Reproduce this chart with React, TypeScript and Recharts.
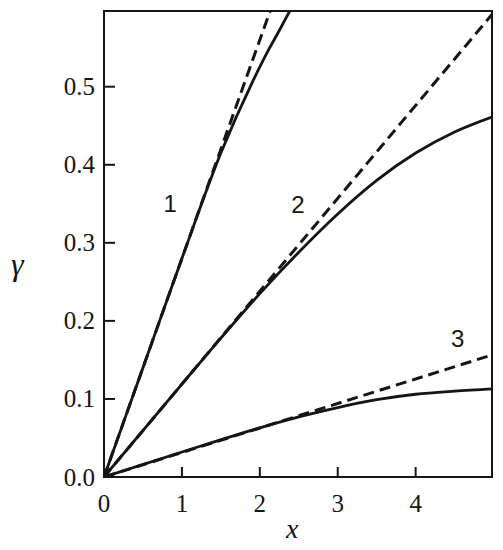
import React from 'react';
import { LineChart, Line, XAxis, YAxis, ReferenceArea, ReferenceDot } from 'recharts';

// curve 1 (solid) and its initial tangent (dashed)
const x1 = [0, 0.5, 1, 1.5, 1.9, 2.1, 2.25, 2.4];
const gamma1 = [0, 0.14, 0.28, 0.415, 0.505, 0.545, 0.572, 0.6];
const x1Tangent = [0, 2.2];
const gamma1Tangent = [0, 0.616];

// curve 2
const x2 = [0, 1, 1.5, 2, 2.5, 3, 3.5, 4, 4.5, 5];
const gamma2 = [0, 0.119, 0.178, 0.235, 0.288, 0.337, 0.38, 0.415, 0.442, 0.462];
const x2Tangent = [0, 5];
const gamma2Tangent = [0, 0.595];

// curve 3
const x3 = [0, 1, 2, 2.5, 3, 3.5, 4, 4.5, 5];
const gamma3 = [0, 0.032, 0.063, 0.077, 0.089, 0.099, 0.106, 0.11, 0.113];
const x3Tangent = [0, 5];
const gamma3Tangent = [0, 0.157];

const xTicks = [0, 1, 2, 3, 4];
const yTicks = [0, 0.1, 0.2, 0.3, 0.4, 0.5];
const X_MAX = 4.98;
const Y_MAX = 0.597;

const curveLabels = ['1', '2', '3'];
const labelX = [0.85, 2.49, 4.54];
const labelY = [0.351, 0.349, 0.178];

const INK = '#151515';
const SERIF = 'Liberation Serif';
const SANS = 'Liberation Sans';

const toPoints = (xs: number[], ys: number[]) => xs.map((x, i) => ({ x, y: ys[i] }));

// tickSize/tickMargin are 0, so (x, y) sits on the axis line; ticks point inward
const renderXTick = ({ x, y, payload }: any) => (
    <g key={`xt-${payload.value}`}>
        <line x1={x} y1={y} x2={x} y2={y - 10} stroke={INK} strokeWidth={2} />
        <text x={x} y={y + 35} textAnchor="middle" fontFamily={SERIF} fontSize={25} fill={INK}>
            {payload.value}
        </text>
    </g>
);

const renderYTick = ({ x, y, payload }: any) => (
    <g key={`yt-${payload.value}`}>
        <line x1={x} y1={y} x2={x + 11} y2={y} stroke={INK} strokeWidth={2} />
        <text x={x - 9} y={y + 8.5} textAnchor="end" fontFamily={SERIF} fontSize={25} fill={INK}>
            {Number(payload.value).toFixed(1)}
        </text>
    </g>
);

const CurveLabel = (text: string) => ({ cx, cy }: any) => (
    <text x={cx} y={cy + 8.5} textAnchor="middle" fontFamily={SANS} fontSize={24} fill={INK}>
        {text}
    </text>
);

export default function App() {
    const solid = { stroke: INK, strokeWidth: 2.8, dot: false, isAnimationActive: false, type: 'monotone' as const };
    const dashed = { ...solid, type: 'linear' as const, strokeWidth: 3, strokeDasharray: '11 6' };

    return (
        <div style={{ position: 'absolute', left: 0, top: 0, width: 503, height: 550, background: '#fff' }}>
            <LineChart width={503} height={550} margin={{ top: 11, right: 11, bottom: 33, left: 0 }}>
                <XAxis
                    type="number"
                    dataKey="x"
                    domain={[0, X_MAX]}
                    ticks={xTicks}
                    allowDataOverflow
                    height={40}
                    tickSize={0}
                    tickMargin={0}
                    tickLine={false}
                    tick={renderXTick}
                    axisLine={{ stroke: INK, strokeWidth: 2 }}
                />
                <YAxis
                    type="number"
                    dataKey="y"
                    domain={[0, Y_MAX]}
                    ticks={yTicks}
                    allowDataOverflow
                    width={104}
                    tickSize={0}
                    tickMargin={0}
                    tickLine={false}
                    tick={renderYTick}
                    axisLine={{ stroke: INK, strokeWidth: 2 }}
                />
                <ReferenceArea x1={0} x2={X_MAX} y1={0} y2={Y_MAX} fill="none" stroke={INK} strokeWidth={2} />

                <Line data={toPoints(x1Tangent, gamma1Tangent)} dataKey="y" {...dashed} />
                <Line data={toPoints(x2Tangent, gamma2Tangent)} dataKey="y" {...dashed} />
                <Line data={toPoints(x3Tangent, gamma3Tangent)} dataKey="y" {...dashed} />
                <Line data={toPoints(x1, gamma1)} dataKey="y" {...solid} />
                <Line data={toPoints(x2, gamma2)} dataKey="y" {...solid} />
                <Line data={toPoints(x3, gamma3)} dataKey="y" {...solid} />

                {curveLabels.map((t, i) => (
                    <ReferenceDot key={t} x={labelX[i]} y={labelY[i]} r={0} shape={CurveLabel(t)} />
                ))}
            </LineChart>
            <div style={{ position: 'absolute', left: 11, top: 248, fontFamily: SERIF, fontStyle: 'italic', fontSize: 32, lineHeight: '32px', color: INK }}>
                γ
            </div>
            <div style={{ position: 'absolute', left: 286, top: 514, fontFamily: SERIF, fontStyle: 'italic', fontSize: 28, lineHeight: '30px', color: INK }}>
                x
            </div>
        </div>
    );
}
